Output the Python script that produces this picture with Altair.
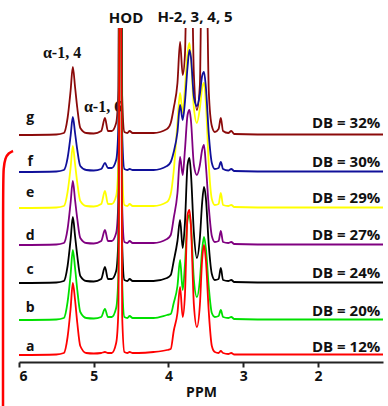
import altair as alt
import pandas as pd

# chemical shift grid (ppm) shared by all traces
ppm = [6.00, 5.50, 5.40, 5.35, 5.31, 5.28, 5.25, 5.22, 5.18, 5.10,
       5.00, 4.90, 4.85, 4.81, 4.76, 4.70, 4.67, 4.645, 4.62, 4.59,
       4.55, 4.52, 4.48, 4.40, 4.20, 4.02, 3.97, 3.93, 3.88, 3.845,
       3.81, 3.78, 3.745, 3.72, 3.70, 3.66, 3.62, 3.58, 3.55, 3.525,
       3.50, 3.46, 3.42, 3.38, 3.33, 3.30, 3.27, 3.20, 3.16, 3.12,
       2.50, 1.13]

trace_names = ["g", "f", "e", "d", "c", "b", "a"]
db_labels = ["DB = 32%", "DB = 30%", "DB = 29%", "DB = 27%", "DB = 24%", "DB = 20%", "DB = 12%"]
offsets = [220, 183, 147, 110, 72, 35, 0]
colors = ["#8B0A0A", "#10109A", "#FFFF00", "#800080", "#000000", "#00E000", "#FF0000"]

int_g = [0, 0.5, 2, 17, 44, 68, 48, 27, 7, 2,
         1.5, 4, 17, 4, 4, 12, 45, 700, 40, 3,
         2, 4, 2, 2, 2, 6, 12, 27, 52, 93,
         60, 80, 200, 130, 200, 60, 25, 50, 200, 130,
         200, 42, 9, 3, 6, 17, 4, 2, 4, 1,
         0.5, 0.5]
int_f = [0, 0.5, 2, 14, 36, 55, 39, 22, 6, 2,
         1.5, 3, 9, 4, 4, 12, 45, 700, 40, 3,
         2, 3, 2, 2, 2, 6, 10, 20, 40, 67,
         52, 70, 105, 122, 115, 75, 66, 78, 96, 100,
         85, 37, 9, 3, 4, 10, 3, 1.5, 3, 1,
         0.5, 0.5]
int_e = [0, 0.5, 2, 16, 40, 62, 44, 25, 7, 2,
         1.5, 4, 17, 4, 4, 12, 45, 700, 40, 3,
         2, 4, 2, 2, 2, 6, 14, 37, 85, 115,
         95, 120, 155, 165, 150, 100, 85, 100, 120, 125,
         105, 42, 9, 3, 4, 15, 3, 2, 3, 1,
         0.5, 0.5]
int_d = [0, 0.5, 2, 16, 42, 64, 45, 26, 7, 2,
         1.5, 4, 15, 4, 4, 12, 45, 700, 40, 3,
         2, 4, 2, 2, 2, 6, 10, 27, 52, 88,
         70, 95, 130, 135, 125, 80, 70, 80, 95, 100,
         80, 37, 9, 3, 4, 14, 3, 2, 3, 1,
         0.5, 0.5]
int_c = [0, 0.5, 2, 17, 43, 66, 47, 27, 7, 2,
         1.5, 4, 16, 4, 4, 12, 45, 700, 40, 3,
         2, 4, 2, 2, 2, 5, 8, 22, 42, 63,
         35, 60, 118, 125, 110, 50, 25, 45, 80, 96,
         85, 37, 9, 3, 4, 15, 3, 2, 3, 1,
         0.5, 0.5]
int_b = [0, 0.5, 2, 18, 45, 70, 52, 30, 8, 2,
         1.5, 3, 11, 3, 3, 12, 45, 700, 40, 3,
         2, 4, 2, 2, 2, 5, 6, 17, 34, 60,
         30, 55, 100, 105, 95, 40, 23, 40, 70, 83,
         72, 32, 7, 3, 4, 10, 3, 2, 3, 1,
         0.5, 0.5]
int_a = [0, 0.5, 2, 18, 46, 72, 55, 32, 9, 2,
         1.5, 2, 3, 2, 2, 12, 45, 700, 40, 3,
         2, 3, 2, 2, 3, 5, 6, 24, 42, 68,
         38, 60, 140, 145, 130, 50, 28, 50, 95, 110,
         95, 42, 9, 3, 2, 4, 2, 1, 2, 0.5,
         0.5, 0.5]
intensities = [int_g, int_f, int_e, int_d, int_c, int_b, int_a]

# label anchor values (data coordinates)
letter_ppm = 5.85
letter_y = [237, 193, 162, 119, 85, 47, 8]
db_ppm = 1.167
db_y = [232, 193, 157, 120, 82, 44, 8]

peak_text = ["α-1, 4", "α-1, 6"]
peak_ppm = [5.424, 4.876]
peak_y = [302, 248]
top_text = ["HOD", "H-2, 3, 4, 5"]
top_ppm = [4.568, 3.644]
top_y = [337, 338]

bracket_ppm = [6.08, 6.14, 6.185, 6.207, 6.214, 6.214]
bracket_y = [204, 202, 197, 187, 172, -55]

xscale = alt.Scale(domain=[6, 1.13], nice=False, zero=False)
yscale = alt.Scale(domain=[-7, 327], nice=False, zero=False)
xaxis = alt.Axis(values=[6, 5, 4, 3, 2], format="d", title="PPM", grid=False,
                 domainColor="#222", domainWidth=2, tickColor="#222", tickWidth=2,
                 tickSize=5, labelFont="Open Sans", labelFontWeight="bold",
                 labelFontSize=14, labelColor="#111", labelPadding=2,
                 titleFont="Open Sans", titleFontWeight="bold", titleFontSize=14,
                 titleColor="#111", titlePadding=2)
X = alt.X("ppm:Q", scale=xscale, axis=xaxis)
Y = alt.Y("y:Q", scale=yscale, axis=None)

rows = []
for name, off, vals in zip(trace_names, offsets, intensities):
    for p, v in zip(ppm, vals):
        rows.append({"trace": name, "ppm": p, "y": off + v})
spec = pd.DataFrame(rows)

layers = []

lab_df = pd.DataFrame({"t": trace_names, "ppm": [letter_ppm] * 7, "y": letter_y})
layers.append(alt.Chart(lab_df).mark_text(font="Open Sans", fontWeight="bold", fontSize=14,
                                          color="#111", align="center", baseline="middle")
              .encode(x=X, y=Y, text="t:N"))

pk_df = pd.DataFrame({"t": peak_text, "ppm": peak_ppm, "y": peak_y})
layers.append(alt.Chart(pk_df).mark_text(font="Liberation Serif", fontWeight="bold", fontSize=16,
                                         color="#111", align="center", baseline="middle")
              .encode(x=X, y=Y, text="t:N"))

top_df = pd.DataFrame({"t": top_text, "ppm": top_ppm, "y": top_y})
layers.append(alt.Chart(top_df).mark_text(font="Open Sans", fontWeight="bold", fontSize=15,
                                          color="#111", align="center", baseline="middle")
              .encode(x=X, y=Y, text="t:N"))

db_df = pd.DataFrame({"t": db_labels, "ppm": [db_ppm] * 7, "y": db_y})
layers.append(alt.Chart(db_df).mark_text(font="Open Sans", fontWeight="bold", fontSize=15,
                                         color="#111", align="right", baseline="middle")
              .encode(x=X, y=Y, text="t:N"))

draw_order = ["g", "d", "e", "f", "c", "b", "a"]
for name in draw_order:
    i = trace_names.index(name)
    sub = spec[spec["trace"] == name]
    layers.append(alt.Chart(sub).mark_line(color=colors[i], strokeWidth=1.8, clip=True,
                                           interpolate="monotone")
                  .encode(x=X, y=Y))

br_df = pd.DataFrame({"ppm": bracket_ppm, "y": bracket_y, "k": list(range(len(bracket_ppm)))})
layers.append(alt.Chart(br_df).mark_line(color="#FF0000", strokeWidth=2.5, clip=False,
                                         interpolate="basis")
              .encode(x=X, y=Y, order=alt.Order("k:Q")))

chart = alt.layer(*layers).properties(
    width=364, height=334,
    autosize=alt.AutoSizeParams(type="none"),
    padding={"left": 19, "top": 28, "right": 5, "bottom": 44},
    background="white",
).configure_view(stroke=None)

chart.save("out.html", embed_options={"renderer": "svg", "actions": False})
